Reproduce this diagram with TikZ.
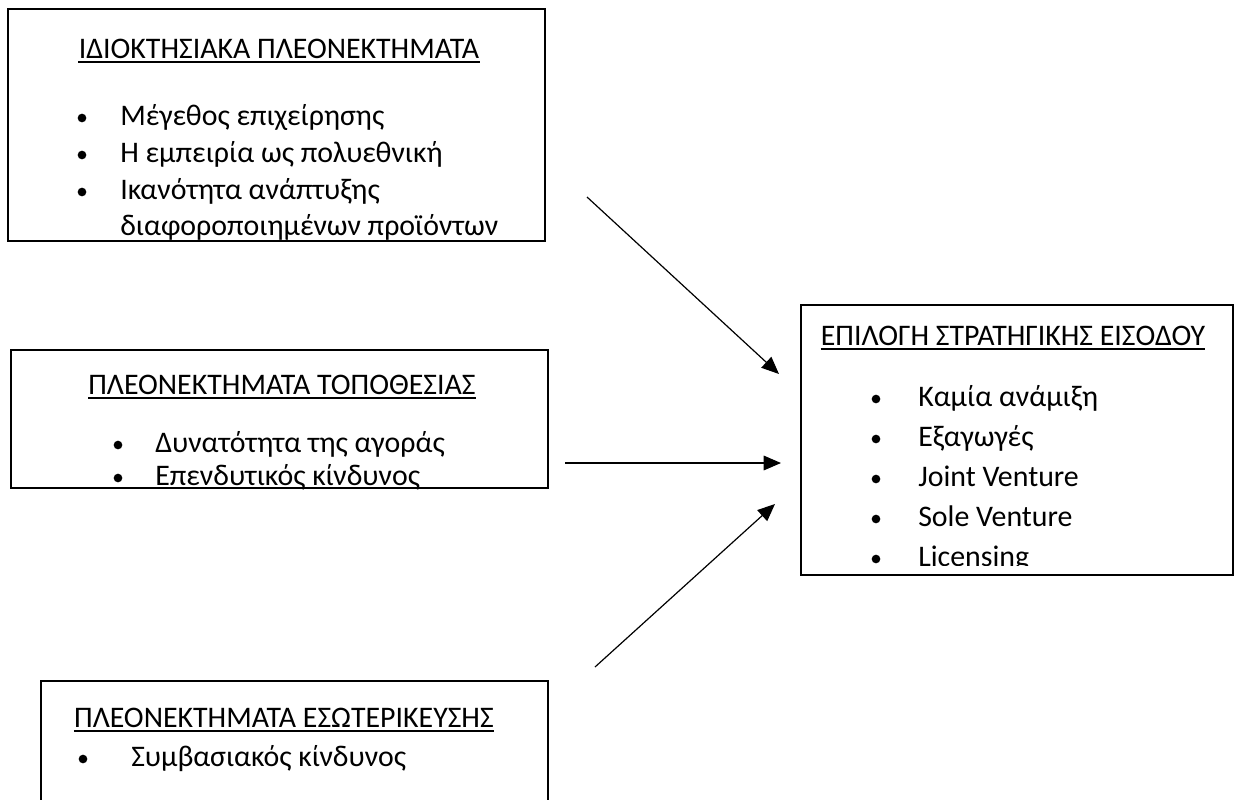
\documentclass[tikz,border=0pt]{standalone}
\usepackage{fontspec}
\setmainfont{Carlito}
\usetikzlibrary{arrows.meta}
\usetikzlibrary{fit}

\begin{document}
\begin{tikzpicture}[x=0.75pt, y=-0.75pt, >={Triangle[length=13pt, width=11pt]},
    box/.style = {draw, line width=2.2pt, inner sep=0pt},
    thinbox/.style = {draw, line width=0.9pt, inner sep=0pt},
    head/.style = {font=\fontsize{22.4}{26}\selectfont, inner sep=0pt, anchor=base},
    item/.style = {font=\fontsize{22.4}{26}\selectfont, inner sep=0pt, anchor=base west},
    dot/.style = {circle, fill, inner sep=0pt, minimum size=6.5pt},
    uline/.style = {line width=1.3pt},
    link/.style = {->, line width=0.9pt}]

    \useasboundingbox (0,0) rectangle (1236,800);
    \clip (0,0) rectangle (1236,800);

    % boxes
    \node[box, fit={(8,9) (545,241)}] (own) {};
    \node[box, fit={(11,350) (548,488)}] (loc) {};
    \node[thinbox, fit={(801,305) (1233,575)}] (entry) {};
    \node[thinbox, fit={(41,681) (548,830)}] (intl) {};

    % titles
    \node[head] (ownT) at (279,58) {ΙΔΙΟΚΤΗΣΙΑΚΑ ΠΛΕΟΝΕΚΤΗΜΑΤΑ};
    \node[head] (locT) at (282,394) {ΠΛΕΟΝΕΚΤΗΜΑΤΑ ΤΟΠΟΘΕΣΙΑΣ};
    \node[head] (entryT) at (1013,345) {ΕΠΙΛΟΓΗ ΣΤΡΑΤΗΓΙΚΗΣ ΕΙΣΟΔΟΥ};
    \node[head] (intlT) at (284,727) {ΠΛΕΟΝΕΚΤΗΜΑΤΑ ΕΣΩΤΕΡΙΚΕΥΣΗΣ};
    \foreach \t in {ownT, locT, entryT, intlT}
        \draw[uline] ([yshift=-3.2pt]\t.base west) -- ([yshift=-3.2pt]\t.base east);

    % items
    \begin{scope}
        \clip (own.north west) rectangle (own.south east);
        \foreach \txt [count=\i] in {Μέγεθος επιχείρησης, Η εμπειρία ως πολυεθνική, Ικανότητα ανάπτυξης} {
            \node[dot] (ownD\i) at (82,{125+37*(\i-1)-7}) {};
            \node[item] (own\i) at (120,{125+37*(\i-1)}) {\txt};
        }
        \node[item] (own4) at (120,235) {διαφοροποιημένων προϊόντων};
    \end{scope}

    \begin{scope}
        \clip (loc.north west) rectangle (loc.south east);
        \foreach \txt [count=\i] in {Δυνατότητα της αγοράς, Επενδυτικός κίνδυνος} {
            \node[dot] (locD\i) at (118,{452+33*(\i-1)-7}) {};
            \node[item] (loc\i) at (155,{452+33*(\i-1)}) {\txt};
        }
    \end{scope}

    \begin{scope}
        \clip (entry.north west) rectangle (1233,565);
        \foreach \txt [count=\i] in {Καμία ανάμιξη, Εξαγωγές, Joint Venture, Sole Venture, Licensing} {
            \node[dot] (entryD\i) at (876,{406+40*(\i-1)-7}) {};
            \node[item] (entry\i) at (918,{406+40*(\i-1)}) {\txt};
        }
    \end{scope}

    \node[dot] (intlD1) at (83,759) {};
    \node[item] (intl1) at (131,766) {Συμβασιακός κίνδυνος};

    % arrows
    \coordinate (a1) at (587,197);
    \coordinate (b1) at (779,374);
    \coordinate (a2) at (565,463);
    \coordinate (b2) at (781,463);
    \coordinate (a3) at (595,667);
    \coordinate (b3) at (775,504);
    \draw[link] (a1) -- (b1);
    \draw[link] (a2) -- (b2);
    \draw[link] (a3) -- (b3);

\end{tikzpicture}
\end{document}
